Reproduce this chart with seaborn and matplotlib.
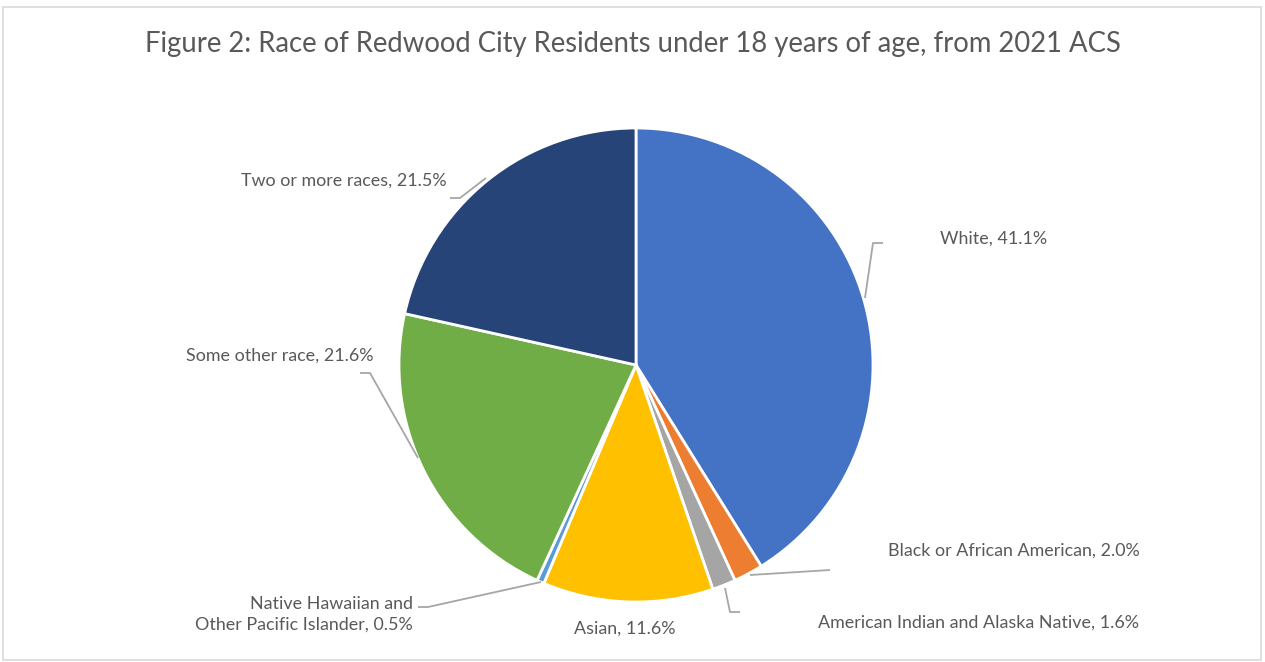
import numpy as np
import matplotlib
matplotlib.use("Agg")
import matplotlib.pyplot as plt
import seaborn as sns
from matplotlib.patches import Rectangle

categories = ["White", "Black or African American", "American Indian and Alaska Native",
              "Asian", "Native Hawaiian and\nOther Pacific Islander", "Some other race",
              "Two or more races"]
values = [41.1, 2.0, 1.6, 11.6, 0.5, 21.6, 21.5]
colors = ["#4472C4", "#ED7D31", "#A5A5A5", "#FFC000", "#5B9BD5", "#70AD47", "#264478"]
title = "Figure 2: Race of Redwood City Residents under 18 years of age, from 2021 ACS"

sns.set_theme(style="white")
plt.rcParams['font.family'] = ['Lato', 'DejaVu Sans']

W, H = 1265, 662
fig = plt.figure(figsize=(W / 100, H / 100), dpi=100)
ax = fig.add_axes([0, 0, 1, 1])
ax.set_xlim(0, W)
ax.set_ylim(0, H)
ax.set_aspect('equal')
ax.axis('off')

def py(y):
    return H - y

# border
ax.add_patch(Rectangle((3, py(660)), 1258, 653, fill=False, edgecolor="#D9D9D9", lw=1.2))

cx, cy, r = 636, 365, 237
wedges, _ = ax.pie(values, colors=colors, startangle=90, counterclock=False,
                   center=(cx, py(cy)), radius=r, frame=True,
                   wedgeprops=dict(edgecolor="white", linewidth=2))
ax.set_xlim(0, W)
ax.set_ylim(0, H)
ax.axis('off')

txt = "#595959"
line_c = "#A6A6A6"
fs = 12.9

ax.text(W / 2, py(44), title, ha="center", va="center", fontsize=19.8, color=txt)

labels = [f"{c}, {v:.1f}%" for c, v in zip(categories, values)]
label_pos = [(940, 239, "left"), (1140, 551, "right"), (1139, 623, "right"),
             (625, 629, "center"), (413, 614, "right"), (373, 356, "right"),
             (447, 181, "right")]
leaders = [
    [(865, 298), (873, 243), (883, 243)],
    [(750, 575), (830, 570)],
    [(725, 588), (730, 612), (740, 612)],
    None,
    [(541, 582), (428, 607), (418, 607)],
    [(418, 458), (370, 373), (360, 373)],
    [(486, 178), (460, 198), (450, 198)],
]
for lab, (tx, ty, ha), ld in zip(labels, label_pos, leaders):
    ax.text(tx, py(ty), lab, ha=ha, va="center", fontsize=fs, color=txt,
            linespacing=1.35, multialignment="right" if ha == "right" else "center")
    if ld:
        xs = [p[0] for p in ld]
        ys = [py(p[1]) for p in ld]
        ax.plot(xs, ys, color=line_c, lw=1.3, solid_capstyle="butt")

fig.savefig("out.png", dpi=100, facecolor="white")
